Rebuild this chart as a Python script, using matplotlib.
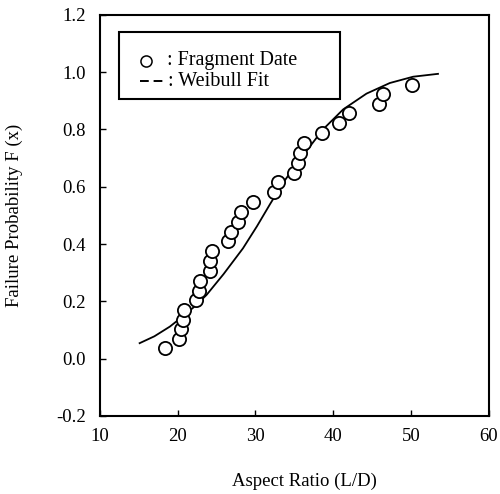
#!/usr/bin/env python3
"""Failure probability vs. aspect ratio with Weibull fit."""

import matplotlib
matplotlib.use("Agg")
import matplotlib.pyplot as plt
from matplotlib.patches import Rectangle

plt.rcParams["font.family"] = ["Liberation Serif", "DejaVu Serif"]

# fragment data
frag_ratio = [18.4, 20.2, 20.4, 20.7, 20.8, 22.4, 22.8, 22.9, 24.1, 24.2, 24.4,
              26.5, 26.9, 27.8, 28.2, 29.7, 32.4, 32.9, 35.0, 35.5, 35.7, 36.3,
              38.6, 40.8, 42.1, 45.9, 46.4, 50.2]
frag_prob = [0.037, 0.068, 0.103, 0.135, 0.170, 0.203, 0.237, 0.271, 0.306, 0.341, 0.374,
             0.409, 0.443, 0.478, 0.513, 0.548, 0.583, 0.618, 0.649, 0.682, 0.717, 0.754,
             0.789, 0.822, 0.857, 0.889, 0.924, 0.956]

# Weibull fit curve
fit_ratio = [15.1, 17.0, 19.0, 20.3, 22.0, 23.7, 25.9, 28.4, 30.2, 31.9, 33.6,
             35.3, 37.0, 38.7, 41.3, 44.3, 47.3, 50.3, 53.5]
fit_prob = [0.054, 0.078, 0.112, 0.140, 0.178, 0.222, 0.295, 0.385, 0.462, 0.540, 0.615,
            0.680, 0.740, 0.800, 0.870, 0.925, 0.962, 0.984, 0.994]

x_ticks = [10, 20, 30, 40, 50, 60]
y_ticks = [-0.2, 0.0, 0.2, 0.4, 0.6, 0.8, 1.0, 1.2]


def draw_legend(ax) -> None:
    """Hand-drawn style legend box like the original figure."""
    tr = ax.transAxes
    ax.add_patch(Rectangle((0.05, 0.79), 0.568, 0.168, transform=tr,
                           fill=False, lw=1.5, ec="black", zorder=5))
    ax.plot([0.118], [0.885], transform=tr, linestyle="none", marker="o", ms=8,
            mfc="white", mec="black", mew=1.1, zorder=6)
    ax.plot([0.103, 0.170], [0.835, 0.835], transform=tr, color="black",
            lw=1.4, linestyle=(0, (4.5, 2.5)), zorder=6)
    ax.text(0.172, 0.885, ": Fragment Date", transform=tr, fontsize=14.5,
            va="center", ha="left", zorder=6)
    ax.text(0.176, 0.835, ": Weibull Fit", transform=tr, fontsize=14.5,
            va="center", ha="left", zorder=6)


def main() -> int:
    fig = plt.figure(figsize=(5.0, 4.94), dpi=100)
    ax = fig.add_axes([0.2, 0.158, 0.777, 0.812])

    ax.plot(fit_ratio, fit_prob, color="black", lw=1.3)
    ax.plot(frag_ratio, frag_prob, linestyle="none", marker="o", ms=9.5,
            mfc="white", mec="black", mew=1.3)

    ax.set_xlim(10, 60)
    ax.set_ylim(-0.2, 1.2)
    ax.set_xticks(x_ticks)
    ax.set_yticks(y_ticks)
    ax.set_yticklabels([f"{v:.1f}" for v in y_ticks])
    ax.tick_params(direction="in", length=4, width=1, labelsize=13.5,
                   top=False, right=False)
    ax.tick_params(axis="x", pad=9)
    ax.tick_params(axis="y", pad=10)
    for sp in ax.spines.values():
        sp.set_linewidth(1.5)

    ax.set_xlabel("Aspect Ratio (L/D)", fontsize=13.5)
    ax.xaxis.set_label_coords(0.525, -0.142)
    ax.set_ylabel("Failure Probability F (x)", fontsize=13.5, labelpad=24)

    draw_legend(ax)

    fig.savefig("out.png", dpi=100)
    plt.close(fig)
    return 0


if __name__ == "__main__":
    raise SystemExit(main())
